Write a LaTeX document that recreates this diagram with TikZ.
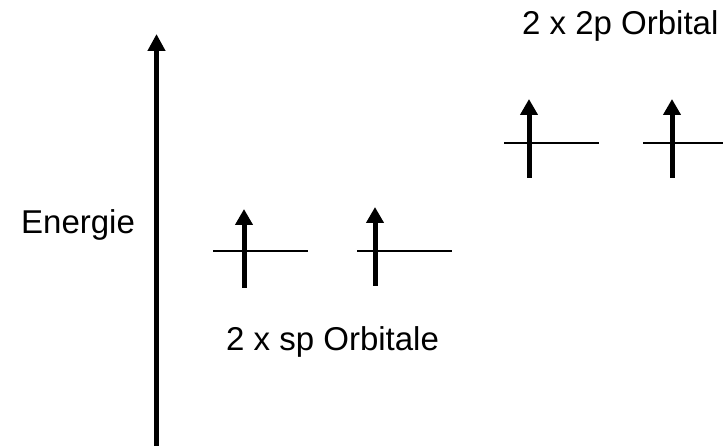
\documentclass[tikz,border=0pt]{standalone}
\usepackage{fontspec}
\setmainfont{Liberation Sans}
\usetikzlibrary{arrows.meta}
\begin{document}
\begin{tikzpicture}[x=1pt,y=-1pt,
  lbl/.style={inner sep=0pt,anchor=base west,font=\fontsize{33}{40}\selectfont},
  level/.style={line width=2pt},
  spin/.style={line width=5pt,-{Triangle[width=17pt,length=16pt]}},
  axis/.style={line width=5.5pt,-{Triangle[width=17pt,length=17pt]}}]
\useasboundingbox (0,0) rectangle (723,446);
% energy axis
\coordinate (ax0) at (156.5,446);
\coordinate (ax1) at (156.5,34);
\draw[axis] (ax0) -- (ax1);
\node[lbl] (energie) at (21,233.5) {Energie};
% sp orbitals
\coordinate (s1a) at (213,251); \coordinate (s1b) at (308,251);
\coordinate (s1u) at (244,288); \coordinate (s1t) at (244,209);
\coordinate (s2a) at (357,251); \coordinate (s2b) at (452,251);
\coordinate (s2u) at (375,286); \coordinate (s2t) at (375,207);
\draw[level] (s1a) -- (s1b);
\draw[level] (s2a) -- (s2b);
\draw[spin] (s1u) -- (s1t);
\draw[spin] (s2u) -- (s2t);
\node[lbl] (splbl) at (226,350) {2 x sp Orbitale};
% 2p orbitals
\coordinate (p1a) at (504,143); \coordinate (p1b) at (599,143);
\coordinate (p1u) at (529,178); \coordinate (p1t) at (529,99);
\coordinate (p2a) at (643,143); \coordinate (p2b) at (730,143);
\coordinate (p2u) at (672,178); \coordinate (p2t) at (672,99);
\draw[level] (p1a) -- (p1b);
\draw[level] (p2a) -- (p2b);
\draw[spin] (p1u) -- (p1t);
\draw[spin] (p2u) -- (p2t);
\node[lbl] (plbl) at (522,34.5) {2 x 2p Orbital};
\end{tikzpicture}
\end{document}
